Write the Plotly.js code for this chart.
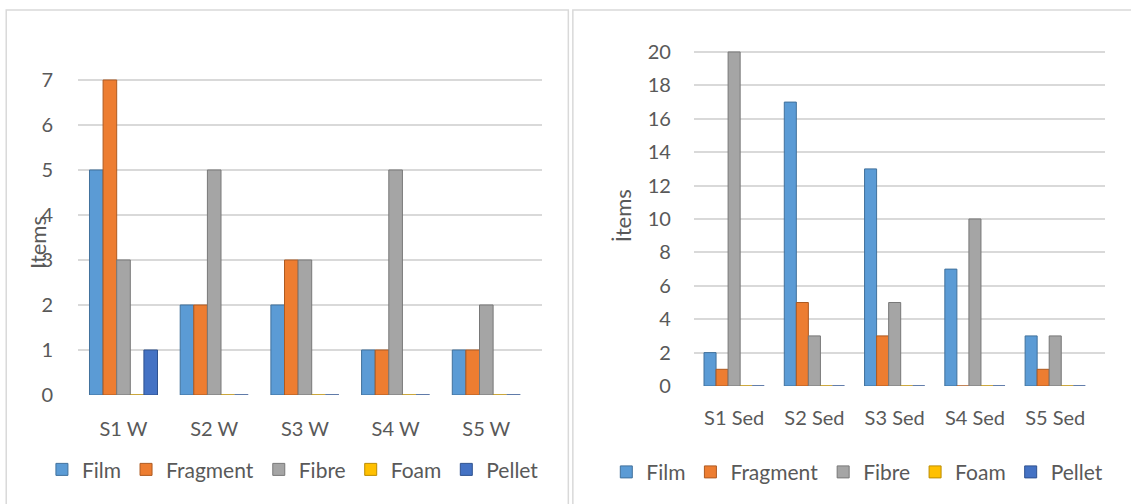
<!DOCTYPE html>
<html>
<head>
<meta charset="utf-8">
<script src="https://cdn.plot.ly/plotly-3.0.1.min.js"></script>
<style>html,body{margin:0;padding:0;background:#fff;}#chart{width:1131px;height:504px;}</style>
</head>
<body>
<div id="chart"></div>
<script>
const seriesNames = ["Film", "Fragment", "Fibre", "Foam", "Pellet"];
const seriesColors = ["#5B9BD5", "#ED7D31", "#A5A5A5", "#FFC000", "#4472C4"];
const seriesEdges = ["#41719C", "#AE5A21", "#787878", "#BC8C00", "#2F528F"];

const waterCategories = ["S1 W", "S2 W", "S3 W", "S4 W", "S5 W"];
const waterFilm = [5, 2, 2, 1, 1];
const waterFragment = [7, 2, 3, 1, 1];
const waterFibre = [3, 5, 3, 5, 2];
const waterFoam = [0, 0, 0, 0, 0];
const waterPellet = [1, 0, 0, 0, 0];

const sedCategories = ["S1 Sed", "S2 Sed", "S3 Sed", "S4 Sed", "S5 Sed"];
const sedFilm = [2, 17, 13, 7, 3];
const sedFragment = [1, 5, 3, 0, 1];
const sedFibre = [20, 3, 5, 10, 3];
const sedFoam = [0, 0, 0, 0, 0];
const sedPellet = [0, 0, 0, 0, 0];

const waterTicks = [0, 1, 2, 3, 4, 5, 6, 7];
const sedTicks = [0, 2, 4, 6, 8, 10, 12, 14, 16, 18, 20];

const FONT = "Lato, 'Noto Sans', sans-serif";
const TXT = "#595959";

const waterSeries = [waterFilm, waterFragment, waterFibre, waterFoam, waterPellet];
const sedSeries = [sedFilm, sedFragment, sedFibre, sedFoam, sedPellet];

const traces = [];
waterSeries.forEach((vals, i) => {
  traces.push({
    type: "bar", x: waterCategories, y: vals, name: seriesNames[i],
    marker: {color: seriesColors[i], line: {color: seriesEdges[i], width: 1}},
    xaxis: "x", yaxis: "y", legend: "legend", hoverinfo: "x+y+name"
  });
});
sedSeries.forEach((vals, i) => {
  traces.push({
    type: "bar", x: sedCategories, y: vals, name: seriesNames[i],
    marker: {color: seriesColors[i], line: {color: seriesEdges[i], width: 1}},
    xaxis: "x2", yaxis: "y2", legend: "legend2", hoverinfo: "x+y+name"
  });
});

const axisCommon = {
  showline: false, zeroline: false, ticks: "",
  tickfont: {family: FONT, size: 20, color: TXT}
};

const layout = {
  width: 1131, height: 504,
  margin: {l: 0, r: 0, t: 0, b: 0},
  paper_bgcolor: "#ffffff", plot_bgcolor: "rgba(0,0,0,0)",
  barmode: "group",
  bargap: 0.25,
  font: {family: FONT, color: TXT},
  showlegend: true,
  xaxis: Object.assign({}, axisCommon, {
    domain: [0.0691, 0.4789], anchor: "y", type: "category",
    range: [-0.5, 4.61], showgrid: false, ticklabelstandoff: 20
  }),
  yaxis: Object.assign({}, axisCommon, {
    domain: [0.2163, 0.8502], anchor: "x",
    range: [0, 7.1], tickvals: waterTicks, showgrid: true,
    gridcolor: "#D9D9D9", gridwidth: 2, ticklabelstandoff: 24
  }),
  xaxis2: Object.assign({}, axisCommon, {
    domain: [0.6136, 0.977], anchor: "y2", type: "category",
    range: [-0.5, 4.62], showgrid: false, ticklabelstandoff: 18
  }),
  yaxis2: Object.assign({}, axisCommon, {
    domain: [0.2341, 0.9101], anchor: "x2",
    range: [0, 20.4], tickvals: sedTicks, showgrid: true,
    gridcolor: "#D9D9D9", gridwidth: 2, ticklabelstandoff: 22,
    title: {text: "İtems", font: {family: FONT, size: 22, color: TXT}, standoff: 10}
  }),
  annotations: [
    {text: "Items", xref: "paper", yref: "paper", x: 0.0336, y: 0.518,
     xanchor: "center", yanchor: "middle", textangle: -90, showarrow: false,
     font: {family: FONT, size: 22, color: TXT}}
  ],
  legend: {
    orientation: "h", x: 0.259, xanchor: "center", y: 0.068, yanchor: "middle",
    font: {family: FONT, size: 21, color: TXT}, itemwidth: 30, traceorder: "normal",
    bgcolor: "rgba(0,0,0,0)"
  },
  legend2: {
    orientation: "h", x: 0.758, xanchor: "center", y: 0.063, yanchor: "middle",
    font: {family: FONT, size: 21, color: TXT}, itemwidth: 30, traceorder: "normal",
    bgcolor: "rgba(0,0,0,0)"
  },
  shapes: [
    {type: "rect", xref: "paper", yref: "paper", x0: 0.0055, x1: 0.5025, y0: -0.01, y1: 0.980,
     line: {color: "#D9D9D9", width: 1.5}, fillcolor: "rgba(0,0,0,0)", layer: "below"},
    {type: "rect", xref: "paper", yref: "paper", x0: 0.5065, x1: 1.01, y0: -0.01, y1: 0.980,
     line: {color: "#D9D9D9", width: 1.5}, fillcolor: "rgba(0,0,0,0)", layer: "below"}
  ]
};

Plotly.newPlot("chart", traces, layout, {displayModeBar: false, staticPlot: true});
</script>
</body>
</html>
